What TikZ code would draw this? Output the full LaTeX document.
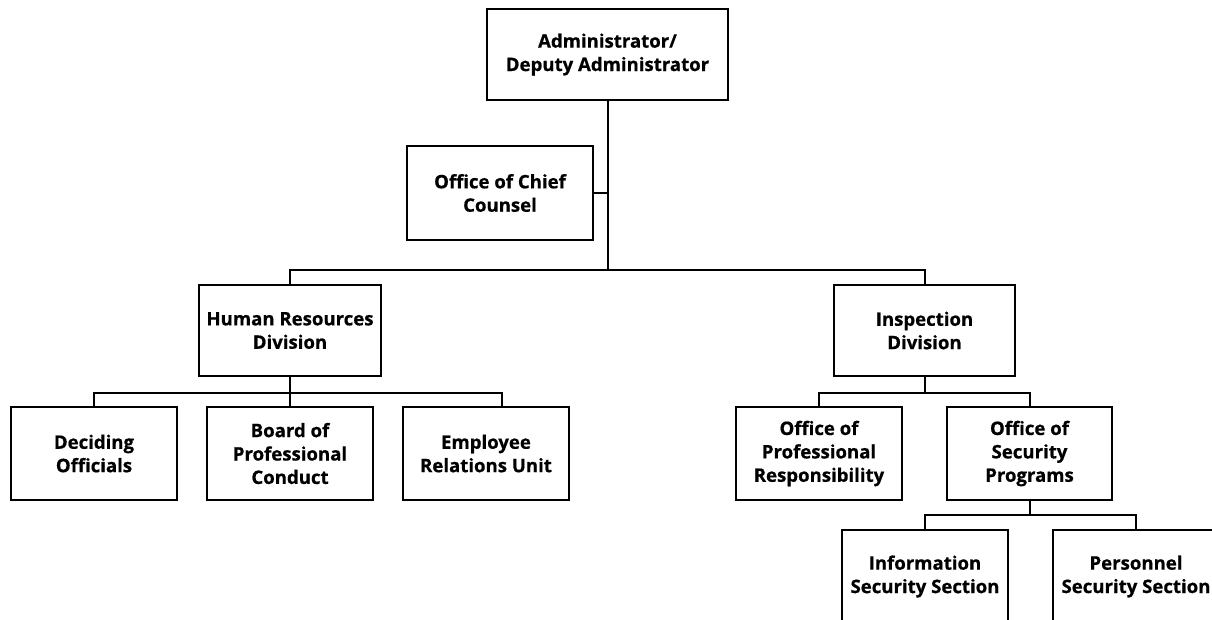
\documentclass[tikz,border=0pt]{standalone}
\usepackage{fontspec}
\setmainfont{Open Sans}[BoldFeatures={FakeBold=0.6}]
\begin{document}
\begin{tikzpicture}[x=1pt,y=-1pt,
  box/.style={draw=black,line width=2pt,fill=white,align=center,inner sep=0pt,
    font=\bfseries\fontsize{18.6}{23.4}\selectfont},
  conn/.style={draw=black,line width=2pt}]
\useasboundingbox (0,0) rectangle (1212,619);
\clip (0,0) rectangle (1212,619);
\node[box,minimum width=241pt,minimum height=91pt] (admin) at (607.5,54.5) {Administrator/\\Deputy Administrator};
\node[box,minimum width=186pt,minimum height=94pt] (counsel) at (500,193) {Office of Chief\\Counsel};
\node[box,minimum width=182pt,minimum height=91pt] (hr) at (290,330.5) {Human Resources\\Division};
\node[box,minimum width=181pt,minimum height=91pt] (insp) at (924.5,330.5) {Inspection\\Division};
\node[box,minimum width=166pt,minimum height=93pt] (dec) at (94,453.5) {Deciding\\Officials};
\node[box,minimum width=166pt,minimum height=93pt] (board) at (290,453.5) {Board of\\Professional\\Conduct};
\node[box,minimum width=166pt,minimum height=93pt] (emp) at (486,453.5) {Employee\\Relations Unit};
\node[box,minimum width=166pt,minimum height=93pt] (opr) at (819,453.5) {Office of\\Professional\\Responsibility};
\node[box,minimum width=165pt,minimum height=93pt] (osp) at (1029.5,453.5) {Office of\\Security\\Programs};
\node[box,minimum width=166pt,minimum height=93pt] (info) at (925,576.5) {Information\\Security Section};
\node[box,minimum width=166pt,minimum height=93pt] (pers) at (1136,576.5) {Personnel\\Security Section};
\coordinate (b1) at (607.5,270);
\coordinate (b2) at (290,393);
\coordinate (e1) at (502,407);
\coordinate (b3) at (924.5,393);
\coordinate (b4) at (1029.5,515);
\draw[conn] (admin.south) -- (b1);
\draw[conn] (counsel.east) -- (counsel.east -| admin.south);
\draw[conn] (hr.north) |- (b1) -| (insp.north);
\draw[conn] (hr.south) -- (b2);
\draw[conn] (dec.north) |- (b2) -| (e1);
\draw[conn] (board.north) -- (b2);
\draw[conn] (insp.south) -- (b3);
\draw[conn] (opr.north) |- (b3) -| (osp.north);
\draw[conn] (osp.south) -- (b4);
\draw[conn] (info.north) |- (b4) -| (pers.north);
\end{tikzpicture}
\end{document}
